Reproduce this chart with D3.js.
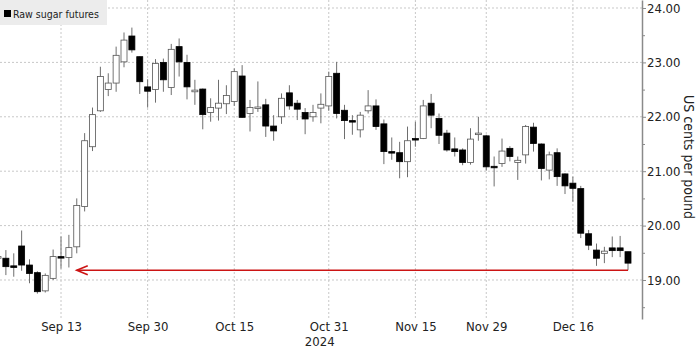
<!DOCTYPE html>
<html lang="en">
<head>
  <meta charset="UTF-8">
  <title>Raw sugar futures</title>
  <style>
    body{ margin:0; background:#fff; }
    svg text{ font-family:"DejaVu Sans Condensed","DejaVu Sans",sans-serif; fill:#222; }
    .grid-line{ stroke:#c8c8c8; stroke-dasharray:2,2; stroke-width:1; }
    .y-axis path, .y-axis line{ stroke:#8a8a8a; }
    .y-axis path{ stroke-width:1.5; }
    .y-axis text{ font-size:13px; }
    .x-axis text{ font-size:13px; }
  </style>
</head>
<body>
  <script src="https://cdn.jsdelivr.net/npm/d3@7"></script>
  <script>
    // trading days, Sep 3 - Dec 26 2024
    const dates = ['2024-09-03','2024-09-04','2024-09-05','2024-09-06','2024-09-09','2024-09-10','2024-09-11','2024-09-12','2024-09-13',
      '2024-09-16','2024-09-17','2024-09-18','2024-09-19','2024-09-20','2024-09-23','2024-09-24','2024-09-25','2024-09-26','2024-09-27',
      '2024-09-30','2024-10-01','2024-10-02','2024-10-03','2024-10-04','2024-10-07','2024-10-08','2024-10-09','2024-10-10','2024-10-11',
      '2024-10-14','2024-10-15','2024-10-16','2024-10-17','2024-10-18','2024-10-21','2024-10-22','2024-10-23','2024-10-24','2024-10-25',
      '2024-10-28','2024-10-29','2024-10-30','2024-10-31','2024-11-01','2024-11-04','2024-11-05','2024-11-06','2024-11-07','2024-11-08',
      '2024-11-11','2024-11-12','2024-11-13','2024-11-14','2024-11-15','2024-11-18','2024-11-19','2024-11-20','2024-11-21','2024-11-22',
      '2024-11-25','2024-11-26','2024-11-27','2024-11-29','2024-12-02','2024-12-03','2024-12-04','2024-12-05','2024-12-06','2024-12-09',
      '2024-12-10','2024-12-11','2024-12-12','2024-12-13','2024-12-16','2024-12-17','2024-12-18','2024-12-19','2024-12-20','2024-12-23',
      '2024-12-24','2024-12-26'];
    const open = [19.40,19.40,19.26,19.625,19.275,19.135,18.80,19.03,19.43,
      19.415,19.61,20.35,21.45,22.11,22.50,22.62,23.01,23.485,23.105,
      22.55,22.50,23.00,22.54,23.29,23.00,22.46,22.51,22.08,22.16,
      22.24,22.28,22.75,22.06,22.17,22.22,21.83,22.00,22.44,22.25,
      22.08,22.00,22.16,22.20,22.80,22.12,21.93,21.76,22.11,22.20,
      21.87,21.36,21.34,21.175,21.60,21.60,22.25,21.97,21.70,21.41,
      21.39,21.16,21.68,21.65,21.09,21.14,21.42,21.16,21.30,21.81,
      21.50,21.02,21.34,20.95,20.78,20.68,19.85,19.55,19.49,19.59,
      19.59,19.52];
    const high = [19.55,19.55,19.49,19.91,19.38,19.16,19.12,19.56,19.80,
      19.83,20.50,21.70,22.17,22.92,22.80,23.29,23.55,23.64,23.11,
      22.69,23.06,23.07,23.34,23.44,23.14,22.68,22.52,22.34,22.68,
      22.58,22.89,22.95,22.31,22.65,22.33,22.03,22.43,22.58,22.31,
      22.16,22.22,22.43,22.83,23.01,22.22,22.03,22.09,22.49,22.32,
      21.95,21.62,21.54,21.82,21.91,22.31,22.42,22.06,21.76,21.62,
      21.42,21.79,22.00,21.67,21.27,21.60,21.46,21.27,21.85,21.89,
      21.51,21.36,21.42,20.96,20.90,20.73,19.92,19.67,19.61,19.80,
      19.81,19.52];
    const low = [19.09,19.09,19.06,19.17,18.94,18.75,18.77,19.00,19.21,
      19.23,19.49,20.26,21.37,22.09,22.38,22.46,22.91,23.18,22.42,
      22.17,22.26,22.46,22.40,22.74,22.32,22.22,21.77,21.91,21.93,
      22.05,22.20,21.98,21.73,22.09,21.63,21.56,21.87,22.13,21.94,
      21.68,21.91,21.88,22.11,21.97,21.59,21.67,21.62,22.06,21.76,
      21.13,21.21,20.87,20.89,21.45,21.59,21.79,21.50,21.36,21.27,
      21.11,21.12,21.56,21.01,20.72,21.08,21.18,20.84,21.14,21.36,
      20.83,20.85,20.73,20.58,20.44,19.77,19.55,19.26,19.31,19.42,
      19.42,19.18];
    const close = [19.43,19.245,19.23,19.275,19.12,18.785,19.085,19.43,19.41,
      19.595,20.37,21.56,22.04,22.74,22.62,23.13,23.41,23.23,22.645,
      22.47,22.98,22.68,23.24,23.01,22.55,22.49,22.04,22.17,22.25,
      22.39,22.83,21.99,22.17,22.18,21.83,21.74,22.34,22.20,22.14,
      21.96,22.08,22.23,22.74,22.06,21.93,21.91,22.03,22.20,21.82,
      21.36,21.34,21.175,21.56,21.58,22.20,22.03,21.66,21.39,21.36,
      21.16,21.59,21.70,21.08,21.07,21.37,21.27,21.20,21.82,21.51,
      21.05,21.30,20.90,20.73,20.685,19.86,19.64,19.40,19.53,19.54,
      19.54,19.31];

    const tickDates = ['2024-09-13','2024-09-30','2024-10-15','2024-10-31','2024-11-15','2024-11-29','2024-12-16'];
    const tickLabels = ['Sep 13','Sep 30','Oct 15','Oct 31','Nov 15','Nov 29','Dec 16'];
    const yTicks = [19, 20, 21, 22, 23, 24];
    const yMinorTicks = [18.5, 19.5, 20.5, 21.5, 22.5, 23.5];
    // red arrow: from the last close back to mid-September, at the last low
    const arrowFrom = '2024-12-26', arrowTo = '2024-09-17', arrowLevel = 19.18;

    const width = 700, height = 351;
    const axisX = 642, plotBottom = 319;

    const svg = d3.select('body').append('svg')
      .attr('width', width)
      .attr('height', height);

    const x = d3.scalePoint().domain(dates).range([-2, 628]);
    const y = d3.scaleLinear().domain([18.283, 24.147]).range([plotBottom, 0]);

    // grid
    svg.append('g').selectAll('line.h').data(yTicks).join('line')
      .attr('class', 'grid-line')
      .attr('x1', 0).attr('x2', axisX)
      .attr('y1', d => y(d)).attr('y2', d => y(d));
    svg.append('g').selectAll('line.v').data(tickDates).join('line')
      .attr('class', 'grid-line')
      .attr('x1', d => x(d)).attr('x2', d => x(d))
      .attr('y1', 0).attr('y2', plotBottom);

    // candles
    const candles = dates.map((d, i) => ({date: d, o: open[i], h: high[i], l: low[i], c: close[i]}));
    const bw = 6;
    const g = svg.append('g');
    g.selectAll('line.wick').data(candles).join('line')
      .attr('x1', d => x(d.date)).attr('x2', d => x(d.date))
      .attr('y1', d => y(d.h)).attr('y2', d => y(d.l))
      .attr('stroke', '#6e6e6e').attr('stroke-width', 1);
    g.selectAll('rect.body').data(candles).join('rect')
      .attr('x', d => x(d.date) - bw / 2)
      .attr('width', bw)
      .attr('y', d => y(Math.max(d.o, d.c)))
      .attr('height', d => Math.max(1.5, Math.abs(y(d.o) - y(d.c))))
      .attr('fill', d => d.c < d.o ? '#000' : '#fff')
      .attr('stroke', d => d.c < d.o ? '#000' : '#555')
      .attr('stroke-width', 0.8);

    // red arrow
    const ay = y(arrowLevel), ax0 = x(arrowTo), ax1 = x(arrowFrom);
    svg.append('line')
      .attr('x1', ax0).attr('x2', ax1).attr('y1', ay).attr('y2', ay)
      .attr('stroke', '#cc1414').attr('stroke-width', 1.6);
    svg.append('path')
      .attr('d', `M${ax0 + 11},${ay - 4.5}L${ax0},${ay}L${ax0 + 11},${ay + 4.5}`)
      .attr('fill', 'none').attr('stroke', '#cc1414').attr('stroke-width', 1.6);

    // y axis (right)
    svg.append('g')
      .attr('class', 'y-axis')
      .attr('transform', `translate(${axisX},0)`)
      .call(d3.axisRight(y).tickValues(yTicks).tickFormat(d3.format('.2f')).tickSize(4).tickSizeOuter(0).tickPadding(1));
    svg.append('g')
      .attr('class', 'y-axis')
      .attr('transform', `translate(${axisX},0)`)
      .call(d3.axisRight(y).tickValues(yMinorTicks).tickFormat('').tickSize(3).tickSizeOuter(0))
      .select('.domain').remove();

    svg.append('text')
      .attr('transform', `translate(684,157) rotate(90)`)
      .attr('text-anchor', 'middle')
      .style('font-size', '14px')
      .text('US cents per pound');

    // x axis
    const xAxis = svg.append('g')
      .attr('class', 'x-axis')
      .attr('transform', `translate(0,${plotBottom})`)
      .call(d3.axisBottom(x).tickValues(tickDates).tickFormat((d, i) => tickLabels[i]).tickSize(0).tickPadding(3));
    xAxis.select('.domain').remove();
    svg.append('text')
      .attr('x', x('2024-10-31') - 9).attr('y', 346)
      .attr('text-anchor', 'middle')
      .style('font-size', '13px')
      .text('2024');

    // legend
    svg.append('rect').attr('x', 0).attr('y', 0).attr('width', 107).attr('height', 25).attr('fill', '#ececec');
    svg.append('rect').attr('x', 4).attr('y', 10).attr('width', 7).attr('height', 7).attr('fill', '#000');
    svg.append('text').attr('x', 13).attr('y', 17.5).style('font-size', '10.5px').text('Raw sugar futures');
  </script>
</body>
</html>
